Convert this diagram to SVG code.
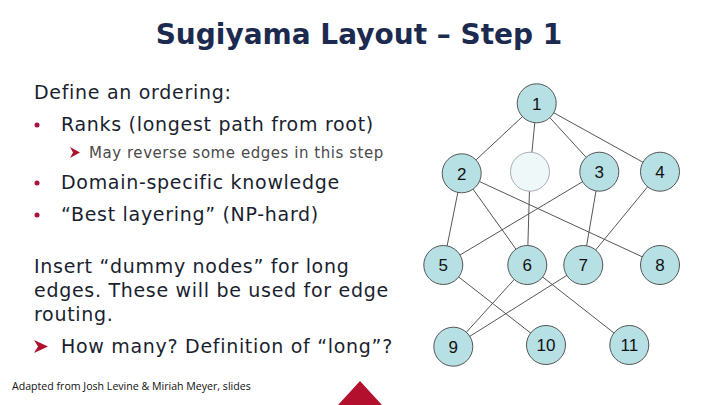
<svg xmlns="http://www.w3.org/2000/svg" width="720" height="405" viewBox="0 0 720 405">
<style>
.title{font-family:"DejaVu Sans",Verdana,sans-serif;font-weight:bold;font-size:28px;fill:#1c2a50}
.body{font-family:"DejaVu Sans",Verdana,sans-serif;font-size:19px;letter-spacing:0.7px;fill:#1a1f30}
.sub{font-family:"DejaVu Sans",Verdana,sans-serif;font-size:15px;letter-spacing:0.55px;fill:#4a4a4a}
.bul{fill:#a8123e}
.arr{fill:#b0122e}
.foot{font-family:"Open Sans","DejaVu Sans",sans-serif;font-size:10.6px;fill:#111}
.node circle{fill:#b6e0e4;stroke:#555;stroke-width:1}
.node text{font-family:"Liberation Sans",Arial,sans-serif;font-size:17px;fill:#111;text-anchor:middle}
#conn line{stroke:#555;stroke-width:1}
</style>
<rect width="720" height="405" fill="#fff"/>
<text class="title" x="359" y="44" text-anchor="middle">Sugiyama Layout – Step 1</text>
<text class="body" x="34" y="99">Define an ordering:</text>
<circle class="bul" cx="37" cy="125" r="2.5"/>
<text class="body" x="61" y="131">Ranks (longest path from root)</text>
<polygon class="arr" points="70,147 80,152.5 70,158 73,152.5"/>
<text class="sub" x="89" y="158">May reverse some edges in this step</text>
<circle class="bul" cx="37" cy="183" r="2.5"/>
<text class="body" x="61" y="189">Domain-specific knowledge</text>
<circle class="bul" cx="37" cy="215" r="2.5"/>
<text class="body" x="61" y="221">“Best layering” (NP-hard)</text>
<text class="body" x="34" y="273">Insert “dummy nodes” for long</text>
<text class="body" x="34" y="297">edges. These will be used for edge</text>
<text class="body" x="34" y="321">routing.</text>
<polygon class="arr" points="34,340 48,346.5 34,353 38,346.5"/>
<text class="body" x="61" y="353">How many? Definition of “long”?</text>
<text class="foot" x="12" y="390">Adapted from Josh Levine &amp; Miriah Meyer, slides</text>
<polygon points="338,405 360,381 382,405" fill="#b3102e"/>
<g id="conn">
<line x1="536.7" y1="103.3" x2="461.7" y2="173.3"/>
<line x1="536.7" y1="103.3" x2="530" y2="171.7"/>
<line x1="536.7" y1="103.3" x2="599.3" y2="171.7"/>
<line x1="536.7" y1="103.3" x2="660" y2="171.7"/>
<line x1="461.7" y1="173.3" x2="443.3" y2="265"/>
<line x1="461.7" y1="173.3" x2="527.3" y2="265"/>
<line x1="461.7" y1="173.3" x2="660" y2="265"/>
<line x1="530" y1="171.7" x2="527.3" y2="265"/>
<line x1="599.3" y1="171.7" x2="443.3" y2="265"/>
<line x1="599.3" y1="171.7" x2="583.3" y2="265"/>
<line x1="660" y1="171.7" x2="583.3" y2="265"/>
<line x1="443.3" y1="265" x2="546" y2="345"/>
<line x1="527.3" y1="265" x2="453.3" y2="346.7"/>
<line x1="527.3" y1="265" x2="629.3" y2="345"/>
<line x1="583.3" y1="265" x2="453.3" y2="346.7"/>
</g>
<g id="n1" class="node"><circle cx="536.7" cy="103.3" r="19.5"/><text x="536.7" y="109.5">1</text></g>
<g id="n2" class="node"><circle cx="461.7" cy="173.3" r="19.5"/><text x="461.7" y="179.5">2</text></g>
<g id="dummy" class="node"><circle cx="530" cy="171.7" r="19.5" style="fill:#eef8f8;stroke:#aab"/></g>
<g id="n3" class="node"><circle cx="599.3" cy="171.7" r="19.5"/><text x="599.3" y="177.9">3</text></g>
<g id="n4" class="node"><circle cx="660" cy="171.7" r="19.5"/><text x="660" y="177.9">4</text></g>
<g id="n5" class="node"><circle cx="443.3" cy="265" r="19.5"/><text x="443.3" y="271.2">5</text></g>
<g id="n6" class="node"><circle cx="527.3" cy="265" r="19.5"/><text x="527.3" y="271.2">6</text></g>
<g id="n7" class="node"><circle cx="583.3" cy="265" r="19.5"/><text x="583.3" y="271.2">7</text></g>
<g id="n8" class="node"><circle cx="660" cy="265" r="19.5"/><text x="660" y="271.2">8</text></g>
<g id="n9" class="node"><circle cx="453.3" cy="346.7" r="19.5"/><text x="453.3" y="352.9">9</text></g>
<g id="n10" class="node"><circle cx="546" cy="345" r="19.5"/><text x="546" y="351.2">10</text></g>
<g id="n11" class="node"><circle cx="629.3" cy="345" r="19.5"/><text x="629.3" y="351.2">11</text></g>
</svg>
